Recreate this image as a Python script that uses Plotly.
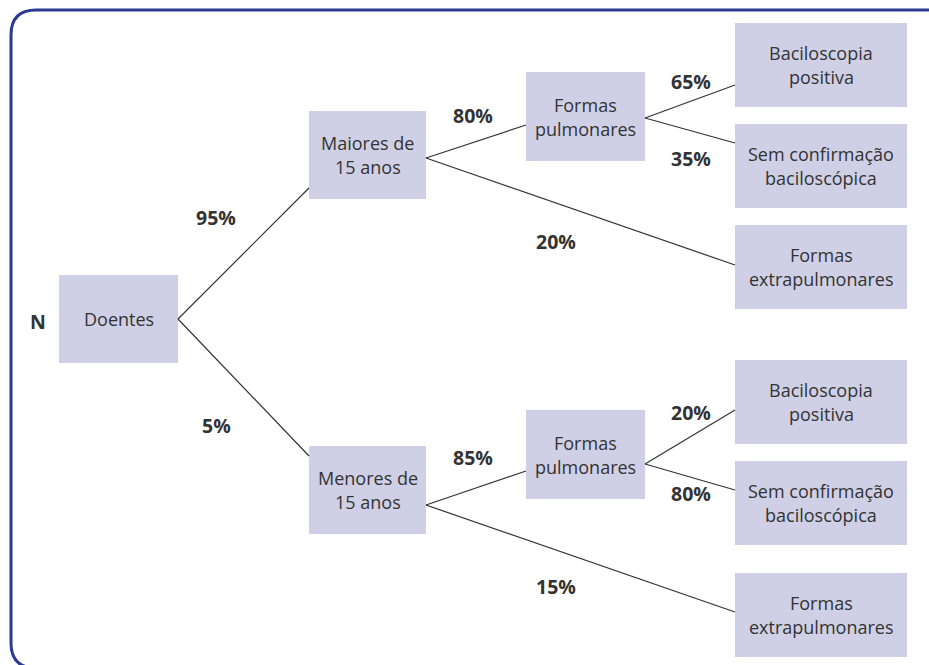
import plotly.graph_objects as go

# nós da árvore (rótulo de cada caixa)
nos = ["Doentes", "Maiores de\n15 anos", "Menores de\n15 anos",
       "Formas\npulmonares", "Formas\nextrapulmonares",
       "Baciloscopia\npositiva", "Sem confirmação\nbaciloscópica",
       "Formas\npulmonares", "Formas\nextrapulmonares",
       "Baciloscopia\npositiva", "Sem confirmação\nbaciloscópica"]

# ligações: origem, destino, percentagem
origem = [0, 0, 1, 1, 3, 3, 2, 2, 7, 7]
destino = [1, 2, 3, 4, 5, 6, 7, 8, 9, 10]
percent = ["95%", "5%", "80%", "20%", "65%", "35%", "85%", "15%", "20%", "80%"]

# layout das caixas (x0, y0, x1, y1) em pixels
caixas = [(59, 275, 178, 363), (309, 111, 426, 199), (309, 446, 426, 534),
          (526, 72, 645, 161), (735, 225, 907, 309),
          (735, 23, 907, 107), (735, 124, 907, 208),
          (526, 410, 645, 499), (735, 573, 907, 657),
          (735, 360, 907, 444), (735, 461, 907, 545)]
# pontos de saída / chegada das linhas
saida = {0: (178, 319), 1: (426, 158), 3: (645, 118), 2: (426, 505), 7: (645, 464)}
chegada = {1: (309, 188), 2: (309, 456), 3: (526, 125), 4: (735, 265),
           5: (735, 85), 6: (735, 143), 7: (526, 471), 8: (735, 612),
           9: (735, 410), 10: (735, 490)}
pos_pct = [(216, 217), (216, 425), (473, 115), (556, 241), (691, 81),
           (691, 158), (473, 457), (556, 586), (691, 412), (691, 493)]

fig = go.Figure()
shapes = []
annots = []

# moldura arredondada
shapes.append(dict(type="path", xref="x", yref="y",
                   path="M 960,10 L 36,10 Q 11,10 11,35 L 11,643 Q 11,668 36,668 L 960,668",
                   line=dict(color="#2b3990", width=3)))

for (x0, y0, x1, y1), rotulo in zip(caixas, nos):
    shapes.append(dict(type="rect", xref="x", yref="y", x0=x0, y0=y0, x1=x1, y1=y1,
                       fillcolor="#cfd0e6", line=dict(width=0), layer="below"))
    linhas = rotulo.split("\n")
    cy = (y0 + y1) / 2
    for i, t in enumerate(linhas):
        yy = cy + (i - (len(linhas) - 1) / 2) * 24
        annots.append(dict(x=(x0 + x1) / 2, y=yy, text=t, showarrow=False,
                           font=dict(family="Open Sans", size=18, color="#333333")))

for o, d, p, (px, py) in zip(origem, destino, percent, pos_pct):
    (xa, ya), (xb, yb) = saida[o], chegada[d]
    fig.add_trace(go.Scatter(x=[xa, xb], y=[ya, yb], mode="lines",
                             line=dict(color="#333333", width=1.2),
                             hoverinfo="skip", showlegend=False))
    annots.append(dict(x=px, y=py, text="<b>" + p + "</b>", showarrow=False,
                       font=dict(family="Open Sans", size=19.5, color="#333333")))

annots.append(dict(x=38, y=321, text="<b>N</b>", showarrow=False,
                   font=dict(family="Open Sans", size=19.5, color="#333333")))

fig.update_layout(
    width=929, height=665,
    margin=dict(l=0, r=0, t=0, b=0),
    paper_bgcolor="white", plot_bgcolor="white",
    xaxis=dict(range=[0, 929], visible=False, fixedrange=True),
    yaxis=dict(range=[665, 0], visible=False, fixedrange=True),
    shapes=shapes, annotations=annots,
)

# tira a margem do body para a figura ocupar a janela toda
fig.write_html("out.html", config={"displayModeBar": False},
               post_script="document.body.style.margin='0';document.body.style.overflow='hidden';")
